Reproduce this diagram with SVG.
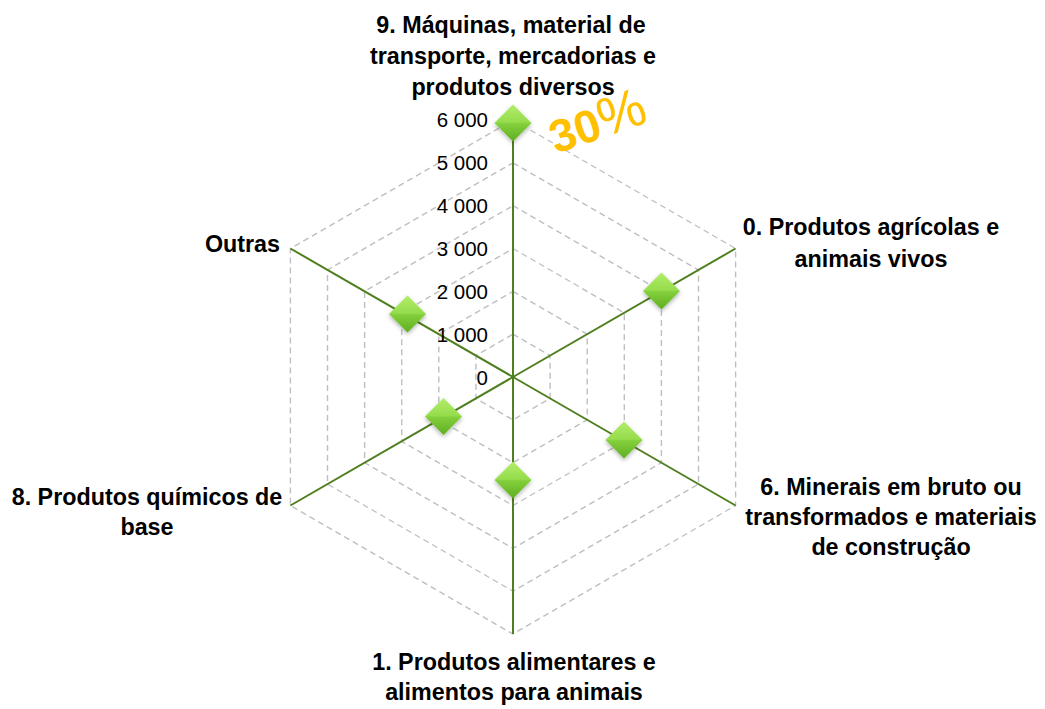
<svg xmlns="http://www.w3.org/2000/svg" width="1045" height="709" viewBox="0 0 1045 709">
<style>
.grid{fill:none;stroke:#bfbfbf;stroke-width:1.4;stroke-dasharray:6 4}
.axis{stroke:#4f7f1f;stroke-width:2;fill:none}
.cat{font-family:"Liberation Sans",Arial,sans-serif;font-weight:bold;font-size:23.3px;fill:#000;text-anchor:middle}
.val{font-family:"Liberation Sans",Arial,sans-serif;font-size:20.5px;fill:#000;text-anchor:end}
.pct{font-family:"Liberation Sans",Arial,sans-serif;font-weight:bold;font-size:46px;fill:#ffc000}
</style>
<defs>
<linearGradient id="mg" x1="0" y1="0" x2="0" y2="1">
<stop offset="0" stop-color="#b2ee6a"/>
<stop offset="0.48" stop-color="#95dc4c"/>
<stop offset="0.52" stop-color="#83cf3c"/>
<stop offset="1" stop-color="#5fae22"/>
</linearGradient>
<filter id="sh" x="-50%" y="-50%" width="200%" height="200%">
<feDropShadow dx="0" dy="2" stdDeviation="2" flood-color="#000" flood-opacity="0.3"/>
</filter>
<path id="dia" d="M0,-18.5 L18.5,0 L0,18.5 L-18.5,0 Z"/>
</defs>
<rect width="1045" height="709" fill="#fff"/>
<g id="gridlines">
<polygon class="grid" points="513,334.2 550.1,355.6 550.1,398.4 513,419.8 475.9,398.4 475.9,355.6"/>
<polygon class="grid" points="513,291.3 587.2,334.2 587.2,419.8 513,462.7 438.8,419.8 438.8,334.2"/>
<polygon class="grid" points="513,248.5 624.3,312.8 624.3,441.3 513,505.5 401.7,441.3 401.7,312.8"/>
<polygon class="grid" points="513,205.7 661.4,291.3 661.4,462.7 513,548.3 364.6,462.7 364.6,291.3"/>
<polygon class="grid" points="513,162.8 698.5,269.9 698.5,484.1 513,591.2 327.5,484.1 327.5,269.9"/>
<polygon class="grid" points="513,120 735.6,248.5 735.6,505.5 513,634 290.4,505.5 290.4,248.5"/>
</g>
<g id="connectors">
<line class="axis" x1="513" y1="377" x2="513" y2="120"/>
<line class="axis" x1="513" y1="377" x2="735.6" y2="248.5"/>
<line class="axis" x1="513" y1="377" x2="735.6" y2="505.5"/>
<line class="axis" x1="513" y1="377" x2="513" y2="634"/>
<line class="axis" x1="513" y1="377" x2="290.4" y2="505.5"/>
<line class="axis" x1="513" y1="377" x2="290.4" y2="248.5"/>
</g>
<g id="scale">
<text class="val" x="488" y="127">6 000</text>
<text class="val" x="488" y="170">5 000</text>
<text class="val" x="488" y="213">4 000</text>
<text class="val" x="488" y="255.5">3 000</text>
<text class="val" x="488" y="298.5">2 000</text>
<text class="val" x="488" y="342">1 000</text>
<text class="val" x="488" y="385">0</text>
</g>
<g id="cat9">
<text class="cat" x="511" y="33">9. Máquinas, material de</text>
<text class="cat" x="513" y="64">transporte, mercadorias e</text>
<text class="cat" x="513" y="95">produtos diversos</text>
<use href="#dia" x="513" y="123" fill="url(#mg)" filter="url(#sh)"/>
</g>
<g id="cat0">
<text class="cat" x="871" y="235">0. Produtos agrícolas e</text>
<text class="cat" x="871" y="267">animais vivos</text>
<use href="#dia" x="661.5" y="291" fill="url(#mg)" filter="url(#sh)"/>
</g>
<g id="cat6">
<text class="cat" x="891" y="495">6. Minerais em bruto ou</text>
<text class="cat" x="891" y="525">transformados e materiais</text>
<text class="cat" x="891" y="555">de construção</text>
<use href="#dia" x="624" y="440" fill="url(#mg)" filter="url(#sh)"/>
</g>
<g id="cat1">
<text class="cat" x="514" y="670">1. Produtos alimentares e</text>
<text class="cat" x="514" y="700">alimentos para animais</text>
<use href="#dia" x="513" y="480" fill="url(#mg)" filter="url(#sh)"/>
</g>
<g id="cat8">
<text class="cat" x="147" y="505">8. Produtos químicos de</text>
<text class="cat" x="147" y="535">base</text>
<use href="#dia" x="443.5" y="416.5" fill="url(#mg)" filter="url(#sh)"/>
</g>
<g id="outras">
<text class="cat" x="280" y="252" style="text-anchor:end">Outras</text>
<use href="#dia" x="407.5" y="314" fill="url(#mg)" filter="url(#sh)"/>
</g>
<g id="percent">
<text class="pct" x="556" y="154" transform="rotate(-19 556 154)">30<tspan font-weight="normal" font-size="54px">%</tspan></text>
</g>
</svg>
